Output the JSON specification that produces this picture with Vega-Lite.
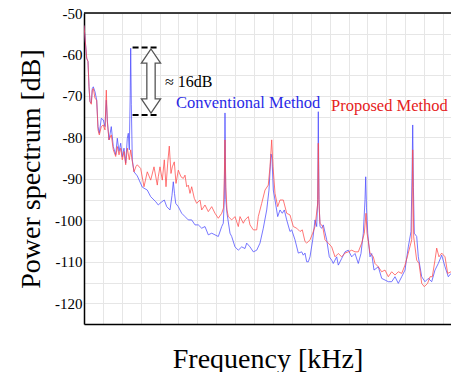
{
  "$schema": "https://vega.github.io/schema/vega-lite/v6.json",
  "width": 367,
  "height": 311,
  "autosize": "none",
  "padding": {"left": 84, "top": 13, "right": 0, "bottom": 48},
  "background": "white",
  "config": {"view": {"stroke": null}},
  "datasets": {
    "spectrum": [
      {"f":0,"p":-53.0,"m":"Conventional"},{"f":0.143,"p":-60.9,"m":"Conventional"},{"f":0.212,"p":-61.7,"m":"Conventional"},{"f":0.265,"p":-67.8,"m":"Conventional"},{"f":0.317,"p":-71.4,"m":"Conventional"},{"f":0.386,"p":-71.7,"m":"Conventional"},{"f":0.439,"p":-68.2,"m":"Conventional"},{"f":0.492,"p":-67.8,"m":"Conventional"},{"f":0.582,"p":-69.0,"m":"Conventional"},{"f":0.672,"p":-71.0,"m":"Conventional"},{"f":0.741,"p":-77.4,"m":"Conventional"},{"f":0.810,"p":-79.0,"m":"Conventional"},{"f":0.915,"p":-75.4,"m":"Conventional"},{"f":1.021,"p":-75.8,"m":"Conventional"},{"f":1.111,"p":-77.4,"m":"Conventional"},{"f":1.180,"p":-71.0,"m":"Conventional"},{"f":1.233,"p":-75.8,"m":"Conventional"},{"f":1.323,"p":-80.6,"m":"Conventional"},{"f":1.444,"p":-77.4,"m":"Conventional"},{"f":1.550,"p":-82.2,"m":"Conventional"},{"f":1.677,"p":-84.2,"m":"Conventional"},{"f":1.762,"p":-80.2,"m":"Conventional"},{"f":1.852,"p":-83.4,"m":"Conventional"},{"f":1.942,"p":-81.4,"m":"Conventional"},{"f":2.026,"p":-84.7,"m":"Conventional"},{"f":2.116,"p":-82.6,"m":"Conventional"},{"f":2.206,"p":-86.2,"m":"Conventional"},{"f":2.291,"p":-80.2,"m":"Conventional"},{"f":2.344,"p":-79.0,"m":"Conventional"},{"f":2.397,"p":-83.0,"m":"Conventional"},{"f":2.444,"p":-70.0,"m":"Conventional"},{"f":2.471,"p":-58.5,"m":"Conventional"},{"f":2.503,"p":-72.0,"m":"Conventional"},{"f":2.556,"p":-85.4,"m":"Conventional"},{"f":2.646,"p":-88.3,"m":"Conventional"},{"f":2.820,"p":-89.3,"m":"Conventional"},{"f":3.085,"p":-92.0,"m":"Conventional"},{"f":3.349,"p":-92.7,"m":"Conventional"},{"f":3.529,"p":-94.3,"m":"Conventional"},{"f":3.794,"p":-95.5,"m":"Conventional"},{"f":3.931,"p":-96.3,"m":"Conventional"},{"f":4.021,"p":-95.9,"m":"Conventional"},{"f":4.127,"p":-95.5,"m":"Conventional"},{"f":4.249,"p":-95.1,"m":"Conventional"},{"f":4.376,"p":-96.7,"m":"Conventional"},{"f":4.550,"p":-97.5,"m":"Conventional"},{"f":4.656,"p":-94.0,"m":"Conventional"},{"f":4.725,"p":-90.7,"m":"Conventional"},{"f":4.788,"p":-93.5,"m":"Conventional"},{"f":4.852,"p":-95.9,"m":"Conventional"},{"f":4.989,"p":-96.7,"m":"Conventional"},{"f":5.169,"p":-98.3,"m":"Conventional"},{"f":5.344,"p":-99.1,"m":"Conventional"},{"f":5.519,"p":-99.9,"m":"Conventional"},{"f":5.698,"p":-99.9,"m":"Conventional"},{"f":5.873,"p":-101.1,"m":"Conventional"},{"f":6.048,"p":-101.1,"m":"Conventional"},{"f":6.228,"p":-101.9,"m":"Conventional"},{"f":6.402,"p":-101.5,"m":"Conventional"},{"f":6.577,"p":-103.5,"m":"Conventional"},{"f":6.757,"p":-103.1,"m":"Conventional"},{"f":6.931,"p":-103.5,"m":"Conventional"},{"f":7.106,"p":-103.9,"m":"Conventional"},{"f":7.286,"p":-101.5,"m":"Conventional"},{"f":7.370,"p":-100.7,"m":"Conventional"},{"f":7.423,"p":-95.0,"m":"Conventional"},{"f":7.460,"p":-74.1,"m":"Conventional"},{"f":7.503,"p":-95.0,"m":"Conventional"},{"f":7.566,"p":-98.3,"m":"Conventional"},{"f":7.725,"p":-103.1,"m":"Conventional"},{"f":7.815,"p":-103.9,"m":"Conventional"},{"f":7.989,"p":-106.4,"m":"Conventional"},{"f":8.164,"p":-107.2,"m":"Conventional"},{"f":8.344,"p":-106.4,"m":"Conventional"},{"f":8.519,"p":-106.8,"m":"Conventional"},{"f":8.608,"p":-105.5,"m":"Conventional"},{"f":8.783,"p":-106.4,"m":"Conventional"},{"f":8.958,"p":-107.6,"m":"Conventional"},{"f":9.138,"p":-107.2,"m":"Conventional"},{"f":9.312,"p":-105.5,"m":"Conventional"},{"f":9.487,"p":-101.9,"m":"Conventional"},{"f":9.667,"p":-97.5,"m":"Conventional"},{"f":9.788,"p":-92.7,"m":"Conventional"},{"f":9.894,"p":-84.0,"m":"Conventional"},{"f":9.947,"p":-85.0,"m":"Conventional"},{"f":10.016,"p":-92.7,"m":"Conventional"},{"f":10.106,"p":-95.1,"m":"Conventional"},{"f":10.249,"p":-99.1,"m":"Conventional"},{"f":10.370,"p":-97.5,"m":"Conventional"},{"f":10.492,"p":-98.3,"m":"Conventional"},{"f":10.598,"p":-97.5,"m":"Conventional"},{"f":10.725,"p":-99.9,"m":"Conventional"},{"f":10.899,"p":-102.7,"m":"Conventional"},{"f":10.989,"p":-102.3,"m":"Conventional"},{"f":11.164,"p":-104.7,"m":"Conventional"},{"f":11.339,"p":-107.9,"m":"Conventional"},{"f":11.519,"p":-107.6,"m":"Conventional"},{"f":11.603,"p":-108.4,"m":"Conventional"},{"f":11.693,"p":-107.9,"m":"Conventional"},{"f":11.783,"p":-110.0,"m":"Conventional"},{"f":11.868,"p":-110.0,"m":"Conventional"},{"f":11.958,"p":-108.8,"m":"Conventional"},{"f":12.101,"p":-104.7,"m":"Conventional"},{"f":12.222,"p":-99.9,"m":"Conventional"},{"f":12.312,"p":-101.5,"m":"Conventional"},{"f":12.365,"p":-95.0,"m":"Conventional"},{"f":12.397,"p":-73.8,"m":"Conventional"},{"f":12.434,"p":-95.0,"m":"Conventional"},{"f":12.487,"p":-101.5,"m":"Conventional"},{"f":12.577,"p":-101.9,"m":"Conventional"},{"f":12.661,"p":-101.1,"m":"Conventional"},{"f":12.841,"p":-104.7,"m":"Conventional"},{"f":12.979,"p":-108.8,"m":"Conventional"},{"f":13.106,"p":-109.6,"m":"Conventional"},{"f":13.190,"p":-110.4,"m":"Conventional"},{"f":13.370,"p":-108.8,"m":"Conventional"},{"f":13.455,"p":-110.8,"m":"Conventional"},{"f":13.635,"p":-109.2,"m":"Conventional"},{"f":13.810,"p":-107.6,"m":"Conventional"},{"f":13.984,"p":-107.2,"m":"Conventional"},{"f":14.164,"p":-108.8,"m":"Conventional"},{"f":14.339,"p":-108.0,"m":"Conventional"},{"f":14.513,"p":-110.4,"m":"Conventional"},{"f":14.656,"p":-108.0,"m":"Conventional"},{"f":14.778,"p":-103.1,"m":"Conventional"},{"f":14.868,"p":-95.0,"m":"Conventional"},{"f":14.905,"p":-89.5,"m":"Conventional"},{"f":14.947,"p":-97.0,"m":"Conventional"},{"f":15.011,"p":-103.1,"m":"Conventional"},{"f":15.132,"p":-108.8,"m":"Conventional"},{"f":15.222,"p":-108.0,"m":"Conventional"},{"f":15.344,"p":-112.0,"m":"Conventional"},{"f":15.571,"p":-111.2,"m":"Conventional"},{"f":15.751,"p":-114.0,"m":"Conventional"},{"f":15.926,"p":-114.4,"m":"Conventional"},{"f":16.101,"p":-114.8,"m":"Conventional"},{"f":16.280,"p":-114.8,"m":"Conventional"},{"f":16.455,"p":-113.6,"m":"Conventional"},{"f":16.630,"p":-115.2,"m":"Conventional"},{"f":16.810,"p":-113.6,"m":"Conventional"},{"f":16.984,"p":-112.0,"m":"Conventional"},{"f":17.159,"p":-106.4,"m":"Conventional"},{"f":17.302,"p":-102.7,"m":"Conventional"},{"f":17.354,"p":-90.0,"m":"Conventional"},{"f":17.392,"p":-77.0,"m":"Conventional"},{"f":17.429,"p":-92.0,"m":"Conventional"},{"f":17.476,"p":-103.1,"m":"Conventional"},{"f":17.603,"p":-103.9,"m":"Conventional"},{"f":17.688,"p":-108.8,"m":"Conventional"},{"f":17.868,"p":-113.6,"m":"Conventional"},{"f":18.042,"p":-114.8,"m":"Conventional"},{"f":18.217,"p":-114.0,"m":"Conventional"},{"f":18.397,"p":-114.8,"m":"Conventional"},{"f":18.571,"p":-112.0,"m":"Conventional"},{"f":18.746,"p":-110.4,"m":"Conventional"},{"f":18.926,"p":-108.4,"m":"Conventional"},{"f":19.101,"p":-111.2,"m":"Conventional"},{"f":19.275,"p":-113.6,"m":"Conventional"},{"f":19.418,"p":-112.8,"m":"Conventional"},
      {"f":0,"p":-53.0,"m":"Proposed"},{"f":0.143,"p":-60.9,"m":"Proposed"},{"f":0.212,"p":-61.7,"m":"Proposed"},{"f":0.265,"p":-67.8,"m":"Proposed"},{"f":0.317,"p":-71.4,"m":"Proposed"},{"f":0.386,"p":-72.0,"m":"Proposed"},{"f":0.439,"p":-68.6,"m":"Proposed"},{"f":0.492,"p":-68.2,"m":"Proposed"},{"f":0.582,"p":-70.6,"m":"Proposed"},{"f":0.672,"p":-71.0,"m":"Proposed"},{"f":0.741,"p":-78.2,"m":"Proposed"},{"f":0.810,"p":-79.4,"m":"Proposed"},{"f":0.915,"p":-77.4,"m":"Proposed"},{"f":1.021,"p":-77.0,"m":"Proposed"},{"f":1.111,"p":-78.2,"m":"Proposed"},{"f":1.180,"p":-68.6,"m":"Proposed"},{"f":1.233,"p":-76.2,"m":"Proposed"},{"f":1.323,"p":-80.6,"m":"Proposed"},{"f":1.444,"p":-79.4,"m":"Proposed"},{"f":1.550,"p":-83.0,"m":"Proposed"},{"f":1.677,"p":-84.6,"m":"Proposed"},{"f":1.762,"p":-82.2,"m":"Proposed"},{"f":1.852,"p":-84.2,"m":"Proposed"},{"f":1.942,"p":-82.6,"m":"Proposed"},{"f":2.026,"p":-85.4,"m":"Proposed"},{"f":2.116,"p":-83.4,"m":"Proposed"},{"f":2.206,"p":-86.6,"m":"Proposed"},{"f":2.291,"p":-82.6,"m":"Proposed"},{"f":2.397,"p":-85.4,"m":"Proposed"},{"f":2.471,"p":-83.0,"m":"Proposed"},{"f":2.556,"p":-85.8,"m":"Proposed"},{"f":2.646,"p":-88.3,"m":"Proposed"},{"f":2.751,"p":-87.0,"m":"Proposed"},{"f":2.820,"p":-86.6,"m":"Proposed"},{"f":3.000,"p":-87.5,"m":"Proposed"},{"f":3.175,"p":-91.9,"m":"Proposed"},{"f":3.349,"p":-88.3,"m":"Proposed"},{"f":3.529,"p":-90.3,"m":"Proposed"},{"f":3.704,"p":-87.1,"m":"Proposed"},{"f":3.878,"p":-91.5,"m":"Proposed"},{"f":3.931,"p":-89.5,"m":"Proposed"},{"f":4.021,"p":-87.1,"m":"Proposed"},{"f":4.143,"p":-90.3,"m":"Proposed"},{"f":4.249,"p":-85.4,"m":"Proposed"},{"f":4.339,"p":-91.9,"m":"Proposed"},{"f":4.429,"p":-86.2,"m":"Proposed"},{"f":4.513,"p":-82.1,"m":"Proposed"},{"f":4.603,"p":-88.7,"m":"Proposed"},{"f":4.672,"p":-87.1,"m":"Proposed"},{"f":4.778,"p":-85.9,"m":"Proposed"},{"f":4.868,"p":-91.1,"m":"Proposed"},{"f":4.989,"p":-87.9,"m":"Proposed"},{"f":5.132,"p":-89.5,"m":"Proposed"},{"f":5.254,"p":-89.9,"m":"Proposed"},{"f":5.344,"p":-89.1,"m":"Proposed"},{"f":5.434,"p":-91.9,"m":"Proposed"},{"f":5.519,"p":-91.5,"m":"Proposed"},{"f":5.608,"p":-93.5,"m":"Proposed"},{"f":5.698,"p":-91.9,"m":"Proposed"},{"f":5.836,"p":-94.7,"m":"Proposed"},{"f":5.963,"p":-95.9,"m":"Proposed"},{"f":6.138,"p":-95.1,"m":"Proposed"},{"f":6.228,"p":-97.5,"m":"Proposed"},{"f":6.402,"p":-96.3,"m":"Proposed"},{"f":6.577,"p":-97.9,"m":"Proposed"},{"f":6.757,"p":-96.7,"m":"Proposed"},{"f":6.931,"p":-98.3,"m":"Proposed"},{"f":7.106,"p":-99.5,"m":"Proposed"},{"f":7.286,"p":-98.3,"m":"Proposed"},{"f":7.381,"p":-97.0,"m":"Proposed"},{"f":7.423,"p":-90.0,"m":"Proposed"},{"f":7.460,"p":-80.6,"m":"Proposed"},{"f":7.503,"p":-92.0,"m":"Proposed"},{"f":7.566,"p":-97.5,"m":"Proposed"},{"f":7.635,"p":-99.1,"m":"Proposed"},{"f":7.815,"p":-99.9,"m":"Proposed"},{"f":7.989,"p":-99.1,"m":"Proposed"},{"f":8.164,"p":-101.5,"m":"Proposed"},{"f":8.254,"p":-99.1,"m":"Proposed"},{"f":8.429,"p":-100.7,"m":"Proposed"},{"f":8.519,"p":-99.9,"m":"Proposed"},{"f":8.693,"p":-99.1,"m":"Proposed"},{"f":8.783,"p":-101.1,"m":"Proposed"},{"f":8.958,"p":-102.3,"m":"Proposed"},{"f":9.138,"p":-102.3,"m":"Proposed"},{"f":9.222,"p":-99.1,"m":"Proposed"},{"f":9.402,"p":-95.9,"m":"Proposed"},{"f":9.577,"p":-92.7,"m":"Proposed"},{"f":9.751,"p":-91.5,"m":"Proposed"},{"f":9.841,"p":-87.1,"m":"Proposed"},{"f":9.931,"p":-80.6,"m":"Proposed"},{"f":10.000,"p":-87.0,"m":"Proposed"},{"f":10.106,"p":-93.5,"m":"Proposed"},{"f":10.249,"p":-96.7,"m":"Proposed"},{"f":10.370,"p":-95.1,"m":"Proposed"},{"f":10.545,"p":-95.1,"m":"Proposed"},{"f":10.725,"p":-98.3,"m":"Proposed"},{"f":10.899,"p":-98.7,"m":"Proposed"},{"f":11.074,"p":-101.5,"m":"Proposed"},{"f":11.254,"p":-101.9,"m":"Proposed"},{"f":11.429,"p":-102.7,"m":"Proposed"},{"f":11.550,"p":-102.3,"m":"Proposed"},{"f":11.693,"p":-105.1,"m":"Proposed"},{"f":11.783,"p":-105.5,"m":"Proposed"},{"f":11.958,"p":-104.7,"m":"Proposed"},{"f":12.101,"p":-103.1,"m":"Proposed"},{"f":12.222,"p":-101.5,"m":"Proposed"},{"f":12.365,"p":-96.0,"m":"Proposed"},{"f":12.397,"p":-81.4,"m":"Proposed"},{"f":12.434,"p":-96.0,"m":"Proposed"},{"f":12.487,"p":-100.7,"m":"Proposed"},{"f":12.630,"p":-101.5,"m":"Proposed"},{"f":12.751,"p":-104.7,"m":"Proposed"},{"f":12.926,"p":-105.5,"m":"Proposed"},{"f":13.106,"p":-106.4,"m":"Proposed"},{"f":13.280,"p":-108.8,"m":"Proposed"},{"f":13.455,"p":-108.0,"m":"Proposed"},{"f":13.635,"p":-108.8,"m":"Proposed"},{"f":13.810,"p":-107.9,"m":"Proposed"},{"f":13.984,"p":-107.6,"m":"Proposed"},{"f":14.164,"p":-107.2,"m":"Proposed"},{"f":14.339,"p":-107.6,"m":"Proposed"},{"f":14.513,"p":-107.6,"m":"Proposed"},{"f":14.693,"p":-105.5,"m":"Proposed"},{"f":14.831,"p":-103.1,"m":"Proposed"},{"f":14.921,"p":-98.3,"m":"Proposed"},{"f":14.974,"p":-103.0,"m":"Proposed"},{"f":15.132,"p":-107.9,"m":"Proposed"},{"f":15.307,"p":-108.8,"m":"Proposed"},{"f":15.397,"p":-110.4,"m":"Proposed"},{"f":15.571,"p":-111.2,"m":"Proposed"},{"f":15.751,"p":-112.4,"m":"Proposed"},{"f":15.926,"p":-112.0,"m":"Proposed"},{"f":16.101,"p":-113.6,"m":"Proposed"},{"f":16.280,"p":-112.4,"m":"Proposed"},{"f":16.455,"p":-113.2,"m":"Proposed"},{"f":16.630,"p":-112.4,"m":"Proposed"},{"f":16.810,"p":-112.8,"m":"Proposed"},{"f":16.984,"p":-110.8,"m":"Proposed"},{"f":17.159,"p":-107.9,"m":"Proposed"},{"f":17.339,"p":-104.7,"m":"Proposed"},{"f":17.392,"p":-83.0,"m":"Proposed"},{"f":17.444,"p":-104.0,"m":"Proposed"},{"f":17.603,"p":-109.6,"m":"Proposed"},{"f":17.725,"p":-110.4,"m":"Proposed"},{"f":17.868,"p":-115.2,"m":"Proposed"},{"f":18.005,"p":-116.0,"m":"Proposed"},{"f":18.180,"p":-115.2,"m":"Proposed"},{"f":18.307,"p":-113.6,"m":"Proposed"},{"f":18.429,"p":-113.6,"m":"Proposed"},{"f":18.571,"p":-109.6,"m":"Proposed"},{"f":18.661,"p":-106.7,"m":"Proposed"},{"f":18.783,"p":-108.8,"m":"Proposed"},{"f":18.926,"p":-107.9,"m":"Proposed"},{"f":19.101,"p":-108.8,"m":"Proposed"},{"f":19.243,"p":-112.8,"m":"Proposed"},{"f":19.418,"p":-112.4,"m":"Proposed"}
    ]
  },
  "encoding": {
    "x": {
      "field": "f", "type": "quantitative",
      "scale": {"domain": [0, 19.418], "nice": false, "zero": false},
      "axis": {
        "title": "Frequency [kHz]",
        "titleFont": "Liberation Serif", "titleFontSize": 28, "titleFontWeight": "normal", "titleColor": "black",
        "titlePadding": 21,
        "labels": false, "ticks": false,
        "values": [0,1,2,3,4,5,6,7,8,9,10,11,12,13,14,15,16,17,18,19],
        "domainColor": "black", "domainWidth": 1.5,
        "grid": true, "gridColor": "#e6e6e6", "gridWidth": 1
      }
    },
    "y": {
      "field": "p", "type": "quantitative",
      "scale": {"domain": [-125, -50], "nice": false, "zero": false},
      "axis": {
        "title": "Power spectrum [dB]",
        "titleFont": "Liberation Serif", "titleFontSize": 28, "titleFontWeight": "normal", "titleColor": "black",
        "titlePadding": 9,
        "values": [-125,-120,-115,-110,-105,-100,-95,-90,-85,-80,-75,-70,-65,-60,-55,-50],
        "labelExpr": "datum.value % 10 === 0 ? '' + datum.value : ''",
        "labelFont": "Liberation Serif", "labelFontSize": 15, "labelColor": "black", "labelPadding": 2,
        "ticks": false,
        "domainColor": "black", "domainWidth": 1.5,
        "grid": true, "gridColor": "#e6e6e6", "gridWidth": 1
      }
    }
  },
  "layer": [
    {
      "data": {"name": "spectrum"},
      "mark": {"type": "line", "strokeWidth": 1, "opacity": 0.75, "clip": true},
      "encoding": {
        "color": {"field": "m", "type": "nominal", "legend": null,
          "scale": {"domain": ["Conventional", "Proposed"], "range": ["#4a4aff", "#ff4a4a"]}}
      }
    },
    {
      "data": {"values": [{"f": 0, "f2": 19.418, "p": -50}]},
      "mark": {"type": "rule", "color": "black", "strokeWidth": 1.5},
      "encoding": {"x2": {"field": "f2"}}
    },
    {
      "data": {"values": [{"f": 2.57, "f2": 3.97, "p": -58.3}, {"f": 2.57, "f2": 3.97, "p": -74.6}]},
      "mark": {"type": "rule", "color": "black", "strokeWidth": 2, "strokeDash": [6, 3]},
      "encoding": {"x2": {"field": "f2"}}
    },
    {
      "data": {"values": [{"f": 3.545, "p": -66.4}]},
      "mark": {"type": "point", "shape": "M0,-1L0.3,-0.56L0.13,-0.56L0.13,0.56L0.3,0.56L0,1L-0.3,0.56L-0.13,0.56L-0.13,-0.56L-0.3,-0.56Z", "size": 4096, "filled": true, "fill": "white", "stroke": "#555555", "strokeWidth": 1.3, "opacity": 1},
      "encoding": {}
    },
    {
      "data": {"values": [{"f": 4.286, "p": -67.9, "t": "≈ 16dB"}]},
      "mark": {"type": "text", "align": "left", "baseline": "alphabetic", "font": "Liberation Serif", "fontSize": 16, "color": "black"},
      "encoding": {"text": {"field": "t"}}
    },
    {
      "data": {"values": [{"f": 4.868, "p": -72.9, "t": "Conventional Method"}]},
      "mark": {"type": "text", "align": "left", "baseline": "alphabetic", "font": "Liberation Serif", "fontSize": 16.5, "color": "#2a2ae6"},
      "encoding": {"text": {"field": "t"}}
    },
    {
      "data": {"values": [{"f": 13.069, "p": -73.75, "t": "Proposed Method"}]},
      "mark": {"type": "text", "align": "left", "baseline": "alphabetic", "font": "Liberation Serif", "fontSize": 16.5, "color": "#e62222"},
      "encoding": {"text": {"field": "t"}}
    }
  ]
}
